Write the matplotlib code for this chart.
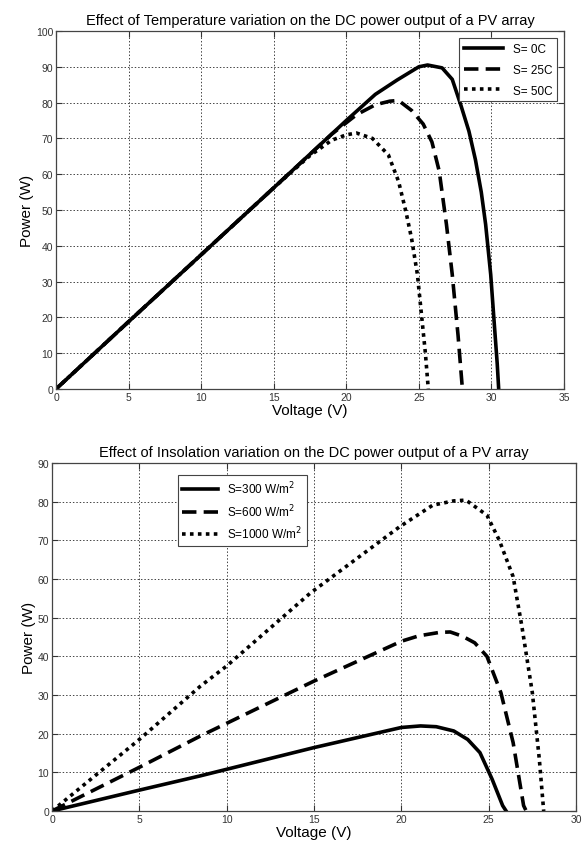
import matplotlib
matplotlib.use('Agg')
import matplotlib.pyplot as plt

plt.rcParams['font.family'] = ['Liberation Sans', 'DejaVu Sans']

# temperature variation (top)
v_0c = [0, 5, 10, 15, 20, 22, 23.5, 25, 25.6, 26.6, 27.3, 27.9, 28.45, 28.9, 29.3, 29.6, 29.95, 30.2, 30.4, 30.5]
p_0c = [0, 18.8, 37.5, 56.2, 75, 82.3, 86.3, 90, 90.5, 89.7, 86.5, 79.2, 72, 64, 55, 46, 32, 18, 7, 0]
v_25c = [0, 5, 10, 15, 19, 20.7, 22, 23, 23.6, 24.5, 25.3, 25.9, 26.4, 26.9, 27.3, 27.7, 28.0]
p_25c = [0, 18.8, 37.5, 56.2, 71.2, 76.6, 79.4, 80.4, 80.6, 77.8, 74, 69, 60.9, 46, 32, 15, 0]
v_50c = [0, 5, 10, 15, 17.5, 19, 20, 20.7, 21.8, 22.9, 23.6, 24.1, 24.5, 24.9, 25.2, 25.45, 25.65]
p_50c = [0, 18.8, 37.5, 56.2, 65.2, 69.5, 71, 71.5, 70, 65.4, 58, 49.7, 42, 32, 20, 10, 0]
temp_labels = ['S= 0C', 'S= 25C', 'S= 50C']

# insolation variation (bottom)
v_1000 = [0, 5, 8.5, 10, 14.8, 19.9, 21.8, 23, 23.7, 24.9, 25.6, 26.4, 26.9, 27.5, 27.9, 28.15]
p_1000 = [0, 18.5, 32.3, 37.5, 56.4, 73.5, 79.1, 80.2, 80.4, 76.5, 70.1, 60.6, 47.8, 30.6, 13.4, 0]
v_600 = [0, 5, 8.5, 15, 20, 21, 22.2, 22.8, 23.5, 24.2, 24.9, 25.7, 26.4, 27.0, 27.15]
p_600 = [0, 11.3, 19.4, 33.6, 43.9, 45.3, 46.2, 46.3, 45.2, 43.5, 40.0, 30.6, 17.7, 1.4, 0]
v_300 = [0, 5, 8.5, 15, 20, 21.1, 22, 23, 23.8, 24.5, 25.2, 25.8, 26.0]
p_300 = [0, 5.4, 9.1, 16.4, 21.6, 22.0, 21.8, 20.7, 18.5, 15.1, 8.2, 1.4, 0]
ins_labels = ['S=300 W/m$^2$', 'S=600 W/m$^2$', 'S=1000 W/m$^2$']

styles = ['-', (0, (4, 2)), (0, (1, 1.2))]


def style_axes(ax, xmax, ymax, xstep, ystep):
    ax.set_xlim(0, xmax)
    ax.set_ylim(0, ymax)
    ax.set_xticks(range(0, xmax + 1, xstep))
    ax.set_yticks(range(0, ymax + 1, ystep))
    ax.grid(True, linestyle=(0, (1.5, 2)), color='#444444', linewidth=0.7)
    ax.tick_params(direction='in', length=4, labelsize=7.5, top=True, right=True,
                   colors='#333333', pad=2)
    for s in ax.spines.values():
        s.set_color('#444444')
        s.set_linewidth(0.9)
    ax.set_xlabel('Voltage (V)', fontsize=11, labelpad=1)
    ax.set_ylabel('Power (W)', fontsize=11, labelpad=1)


fig = plt.figure(figsize=(5.82, 8.54), dpi=100)

ax1 = fig.add_axes([56 / 582, 1 - 390 / 854, 508 / 582, 358 / 854])
for v, p, ls, lab in zip([v_0c, v_25c, v_50c], [p_0c, p_25c, p_50c], styles, temp_labels):
    ax1.plot(v, p, color='black', linestyle=ls, linewidth=2.6, label=lab)
style_axes(ax1, 35, 100, 5, 10)
ax1.set_title('Effect of Temperature variation on the DC power output of a PV array',
              fontsize=10.5, pad=5)
leg1 = ax1.legend(loc='upper right', fontsize=8.5, fancybox=False, framealpha=1,
                  edgecolor='#444444', handlelength=3.3, borderaxespad=0.6,
                  labelspacing=0.75)
leg1.get_frame().set_linewidth(0.8)

ax2 = fig.add_axes([52 / 582, 1 - 812 / 854, 524 / 582, 348 / 854])
for v, p, ls, lab in zip([v_300, v_600, v_1000], [p_300, p_600, p_1000], styles, ins_labels):
    ax2.plot(v, p, color='black', linestyle=ls, linewidth=2.6, label=lab)
style_axes(ax2, 30, 90, 5, 10)
ax2.set_title('Effect of Insolation variation on the DC power output of a PV array',
              fontsize=10.5, pad=5)
leg2 = ax2.legend(loc='upper left', bbox_to_anchor=(0.24, 0.965), fontsize=8.5,
                  fancybox=False, framealpha=1, edgecolor='#444444',
                  handlelength=3.0, borderaxespad=0)
leg2.get_frame().set_linewidth(0.8)

fig.savefig('out.png', dpi=100)
